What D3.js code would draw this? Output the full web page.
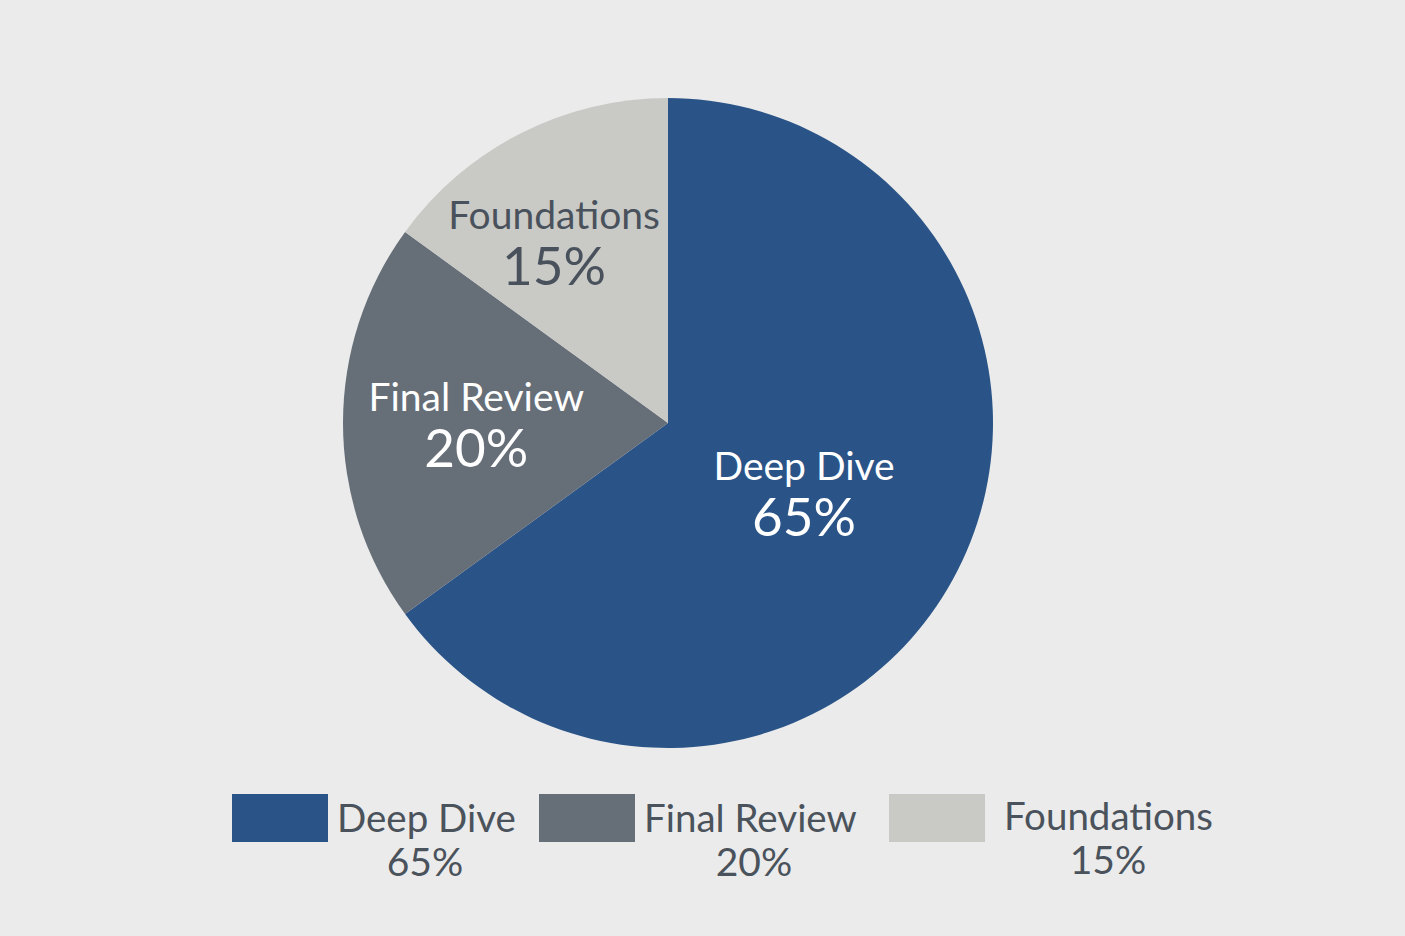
<!DOCTYPE html>
<html>
<head>
<meta charset="utf-8">
<script src="https://cdn.jsdelivr.net/npm/d3@7"></script>
<style>
  html, body { margin: 0; padding: 0; background: #ebebeb; }
  svg { display: block; font-family: Lato, "Noto Sans", sans-serif; }
</style>
</head>
<body>
<div id="chart"></div>
<script>
// data
const categories = ["Deep Dive", "Final Review", "Foundations"];
const shares = [65, 20, 15];
const shareLabels = ["65%", "20%", "15%"];

// styles
const colors = ["#2a5487", "#666e78", "#c9c9c5"];
const labelColors = ["#ffffff", "#ffffff", "#49525c"];
const labelRadius = [0.47, 0.59, 0.63];
const labelNudge = [0, 0, -21];

const width = 1405, height = 936;
const cx = 668, cy = 423, R = 325;

const svg = d3.select("#chart").append("svg")
    .attr("width", width)
    .attr("height", height);

svg.append("rect").attr("width", width).attr("height", height).attr("fill", "#ebebeb");

const rows = categories.map((c, i) => ({ name: c, value: shares[i], label: shareLabels[i], i: i }));

const pie = d3.pie().value(d => d.value).sort(null);
const arc = d3.arc().innerRadius(0).outerRadius(R);
const arcs = pie(rows);

const g = svg.append("g").attr("transform", `translate(${cx},${cy})`);

g.selectAll("path.slice").data(arcs).enter().append("path")
    .attr("class", "slice")
    .attr("d", arc)
    .attr("fill", d => colors[d.data.i]);

const labels = g.selectAll("g.lbl").data(arcs).enter().append("g")
    .attr("class", "lbl")
    .attr("transform", d => {
      const r = labelRadius[d.data.i] * R;
      const c = d3.arc().innerRadius(r).outerRadius(r).centroid(d);
      return `translate(${c[0] + labelNudge[d.data.i]},${c[1]})`;
    })
    .attr("fill", d => labelColors[d.data.i])
    .attr("text-anchor", "middle");

labels.append("text")
    .attr("y", -12)
    .style("font-size", "39px")
    .text(d => d.data.name);

labels.append("text")
    .attr("y", 44)
    .style("font-size", "53px")
    .text(d => d.data.label);

// legend
const legendSpots = [232, 539, 889];
const lg = svg.append("g");
const item = lg.selectAll("g.item").data(rows).enter().append("g")
    .attr("class", "item")
    .attr("transform", d => `translate(${legendSpots[d.i]},794)`);

item.append("rect")
    .attr("width", 96)
    .attr("height", 48)
    .attr("fill", d => colors[d.i]);

item.append("text")
    .attr("x", d => d.i === 2 ? 115 : 105)
    .attr("y", d => d.i === 2 ? 36 : 38)
    .attr("fill", "#4a525b")
    .style("font-size", "38.5px")
    .text(d => d.name);

item.append("text")
    .attr("x", d => d.i === 2 ? 219 : d.i === 1 ? 215 : 193)
    .attr("y", d => d.i === 2 ? 80 : 82)
    .attr("text-anchor", "middle")
    .attr("fill", "#4a525b")
    .style("font-size", "39px")
    .text(d => d.label);
</script>
</body>
</html>
